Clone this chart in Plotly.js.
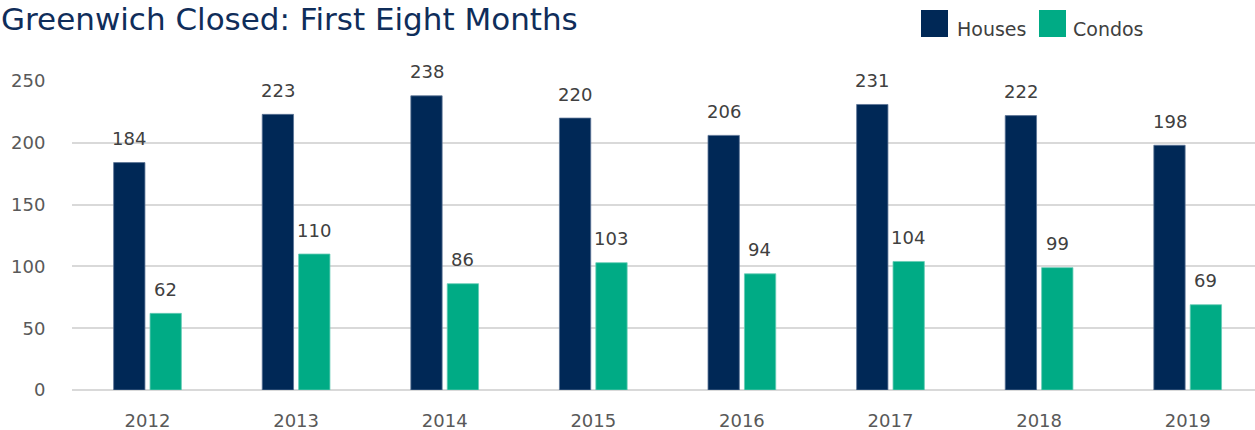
<!DOCTYPE html>
<html>
<head>
<meta charset="utf-8">
<script src="https://cdn.plot.ly/plotly-3.0.1.min.js"></script>
<style>html,body{margin:0;padding:0;background:#fff;}#chart{width:1255px;height:430px;}</style>
</head>
<body>
<div id="chart"></div>
<script>
var years = ["2012","2013","2014","2015","2016","2017","2018","2019"];
var houses = [184, 223, 238, 220, 206, 231, 222, 198];
var condos = [62, 110, 86, 103, 94, 104, 99, 69];
var seriesNames = ["Houses", "Condos"];
var yTicks = [0, 50, 100, 150, 200, 250];
var chartTitle = "Greenwich Closed: First Eight Months";

var NAVY = "#002856", TEAL = "#00ab85";
var W = 1255, H = 430, L = 72, R = 0, T = 81, B = 40;
var pw = W - L - R, ph = H - T - B;
function px(x){ return (x - L) / pw; }
function py(y){ return (H - B - y) / ph; }

var traces = [
  {type:"bar", name:seriesNames[0], x:years, y:houses, marker:{color:NAVY, line:{width:0.8, color:"#5a7396"}}, hoverinfo:"x+y"},
  {type:"bar", name:seriesNames[1], x:years, y:condos, marker:{color:TEAL, line:{width:0.8, color:"#66ccb5"}}, hoverinfo:"x+y"}
];

var ann = [];
var FONT = "DejaVu Sans, sans-serif";
var labelFont = {family:FONT, size:18, color:"#404040"};
years.forEach(function(yr, i){
  ann.push({x:i, y:houses[i], xref:"x", yref:"y", text:String(houses[i]), showarrow:false,
    xshift:-18, yshift:24, yanchor:"middle", xanchor:"center", font:labelFont});
  ann.push({x:i, y:condos[i], xref:"x", yref:"y", text:String(condos[i]), showarrow:false,
    xshift:18, yshift:24, yanchor:"middle", xanchor:"center", font:labelFont});
});
ann.push({xref:"paper", yref:"paper", x:px(0), y:py(0), xanchor:"left", yanchor:"top", borderpad:0,
  text:chartTitle, showarrow:false, font:{family:FONT, size:31, color:"#0f2d5a"}});

var legendItems = [
  {name:seriesNames[0], color:NAVY, sx:921, tx:955},
  {name:seriesNames[1], color:TEAL, sx:1039, tx:1071}
];
var shapes = [];
legendItems.forEach(function(it){
  shapes.push({type:"rect", xref:"paper", yref:"paper", x0:px(it.sx), x1:px(it.sx+27), y0:py(37), y1:py(10),
    fillcolor:it.color, line:{width:0}});
  ann.push({xref:"paper", yref:"paper", x:px(it.tx), y:py(29), xanchor:"left", yanchor:"middle",
    text:it.name, showarrow:false, font:{family:FONT, size:19, color:"#404040"}});
});

var layout = {
  width:W, height:H,
  margin:{l:L, r:R, t:T, b:B, pad:0},
  paper_bgcolor:"#ffffff", plot_bgcolor:"#ffffff",
  showlegend:false,
  barmode:"group", bargap:0.51, bargroupgap:0.14,
  xaxis:{type:"category", range:[-0.508, 7.453], showgrid:false, zeroline:false, showline:false,
    ticks:"outside", ticklen:14, tickcolor:"rgba(0,0,0,0)",
    tickfont:{family:FONT, size:18, color:"#595959"}},
  yaxis:{range:[0,250], tickvals:yTicks, ticktext:yTicks.map(String), showgrid:true, gridcolor:"#d9d9d9", gridwidth:2,
    zeroline:true, zerolinecolor:"#d9d9d9", zerolinewidth:2, showline:false,
    ticks:"outside", ticklen:22, tickcolor:"rgba(0,0,0,0)",
    tickfont:{family:FONT, size:18, color:"#595959"}},
  annotations:ann,
  shapes:shapes
};

Plotly.newPlot("chart", traces, layout, {displayModeBar:false, staticPlot:true});
</script>
</body>
</html>
